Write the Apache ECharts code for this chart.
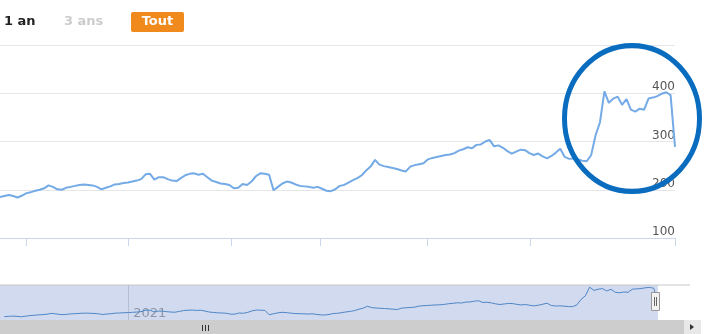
<!DOCTYPE html>
<html>
<head>
<meta charset="utf-8">
<script src="https://cdn.jsdelivr.net/npm/echarts@6/dist/echarts.min.js"></script>
<style>
html, body { margin: 0; padding: 0; background: #fff; }
#chart { width: 706px; height: 334px; }
</style>
</head>
<body>
<div id="chart"></div>
<script>
// one point every 4 days
var startDate = '2020-09-07';
var stepDays = 4;
var prices = [
    185, 187, 189, 187, 184, 188, 193, 195, 198, 200,
    203, 209, 206, 201, 200, 204, 206, 208, 210, 211,
    210, 209, 206, 201, 204, 207, 211, 212, 214, 215,
    217, 219, 222, 232, 233, 221, 226, 226, 222, 219,
    218, 224, 230, 233, 234, 231, 233, 226, 219, 216,
    213, 212, 210, 203, 204, 212, 210, 217, 228, 234,
    233, 231, 199, 206, 213, 217, 215, 211, 208, 207,
    206, 204, 206, 202, 198, 197, 201, 208, 210, 215,
    220, 224, 230, 240, 248, 262, 252, 249, 247, 245,
    243, 240, 238, 248, 251, 253, 255, 263, 266, 268,
    270, 272, 273, 276, 281, 284, 288, 286, 293, 294,
    300, 303, 290, 292, 287, 280, 275, 279, 283, 282,
    276, 272, 275, 269, 265, 270, 277, 285, 268, 264,
    265, 263, 260, 259, 272, 313, 340, 404, 380, 389,
    393, 376, 388, 366, 362, 368, 366, 389, 391, 394,
    399, 402, 396, 289
];
var tickDates = ['2020-10-01', '2021-01-01', '2021-04-05', '2021-06-24', '2021-09-29', '2022-01-01', '2022-05-12'];
var yearDates = ['2021-01-01'];
var yTicks = [100, 200, 300, 400, 500];
var buttons = ['1 an', '3 ans', 'Tout'];

var DAY = 86400000;
function toTime(s) { return +new Date(s + 'T00:00:00Z'); }

var t0 = toTime(startDate);
var points = prices.map(function (v, i) { return [t0 + i * stepDays * DAY, v]; });
var tEnd = points[points.length - 1][0];

var myChart = echarts.init(document.getElementById('chart'));

var option = {
    animation: false,
    grid: [
        { left: 0, top: 45, width: 675, height: 193 },
        // navigator
        { left: 0, top: 285, width: 658, height: 35, show: true, backgroundColor: '#d1daee', borderWidth: 0 }
    ],
    xAxis: [
        {
            type: 'value', gridIndex: 0, min: t0, max: tEnd,
            axisLine: { lineStyle: { color: '#ccd6eb' } },
            axisTick: { show: true, length: 8, lineStyle: { color: '#ccd6eb' }, customValues: tickDates.map(toTime) },
            axisLabel: { show: false },
            splitLine: { show: false }
        },
        {
            type: 'value', gridIndex: 1, min: t0 - 4 * DAY, max: tEnd,
            axisLine: { show: false },
            axisTick: { show: true, inside: true, length: 35, lineStyle: { color: '#b5bfd3' }, customValues: yearDates.map(toTime) },
            axisLabel: {
                show: true, inside: true, margin: 0, align: 'left', padding: [0, 0, 0, 5],
                color: '#8c97aa', fontSize: 13, fontFamily: 'DejaVu Sans',
                customValues: yearDates.map(toTime),
                formatter: function (v) { return String(new Date(v).getUTCFullYear()); }
            },
            splitLine: { show: false }
        }
    ],
    yAxis: [
        {
            type: 'value', gridIndex: 0, position: 'right',
            min: yTicks[0], max: yTicks[yTicks.length - 1], interval: 100,
            axisLine: { show: false },
            axisTick: { show: false },
            axisLabel: {
                inside: true, margin: 0, showMaxLabel: false,
                verticalAlign: 'bottom', padding: [0, 0, 0, 0],
                color: '#555', fontSize: 12, fontFamily: 'DejaVu Sans'
            },
            splitLine: { lineStyle: { color: '#e6e6e6' } }
        },
        { type: 'value', gridIndex: 1, min: 160, max: 420, show: false }
    ],
    series: [
        {
            type: 'line', xAxisIndex: 0, yAxisIndex: 0, data: points,
            showSymbol: false, lineStyle: { color: '#74aae6', width: 2 }
        },
        {
            type: 'line', xAxisIndex: 1, yAxisIndex: 1, data: points,
            showSymbol: false, lineStyle: { color: '#4f86c6', width: 1 }
        }
    ],
    graphic: [
        // range selector
        { type: 'text', left: 4, top: 15, style: { text: buttons[0], font: 'bold 13px DejaVu Sans', fill: '#222' } },
        { type: 'text', left: 64, top: 15, style: { text: buttons[1], font: 'bold 13px DejaVu Sans', fill: '#cccccc' } },
        { type: 'rect', shape: { x: 131, y: 12, width: 53, height: 20, r: 2 }, style: { fill: '#f08a1c' } },
        { type: 'text', x: 157.5, y: 22, style: { text: buttons[2], font: 'bold 13px DejaVu Sans', fill: '#fff', align: 'center', verticalAlign: 'middle' } },
        // navigator outline + handle
        { type: 'line', shape: { x1: 0, y1: 285, x2: 690, y2: 285 }, style: { stroke: '#c8c8c8', lineWidth: 1 } },
        { type: 'rect', shape: { x: 651.5, y: 292.5, width: 8, height: 18 }, style: { fill: '#f2f2f2', stroke: '#999', lineWidth: 1 }, z: 10 },
        { type: 'line', shape: { x1: 654.5, y1: 297, x2: 654.5, y2: 306 }, style: { stroke: '#666', lineWidth: 1 }, z: 11 },
        { type: 'line', shape: { x1: 656.5, y1: 297, x2: 656.5, y2: 306 }, style: { stroke: '#666', lineWidth: 1 }, z: 11 },
        // scrollbar
        { type: 'rect', shape: { x: 0, y: 320, width: 684, height: 14 }, style: { fill: '#cdcdcd' } },
        { type: 'line', shape: { x1: 202.5, y1: 325, x2: 202.5, y2: 331 }, style: { stroke: '#333', lineWidth: 1 } },
        { type: 'line', shape: { x1: 205.5, y1: 325, x2: 205.5, y2: 331 }, style: { stroke: '#333', lineWidth: 1 } },
        { type: 'line', shape: { x1: 208.5, y1: 325, x2: 208.5, y2: 331 }, style: { stroke: '#333', lineWidth: 1 } },
        { type: 'rect', shape: { x: 684, y: 320, width: 17, height: 14 }, style: { fill: '#e8e8e8' } },
        { type: 'polygon', shape: { points: [[690, 324], [690, 330], [694, 327]] }, style: { fill: '#333' } },
        // highlight circle
        {
            type: 'circle', x: 632, y: 118.5, scaleY: 1.08,
            shape: { cx: 0, cy: 0, r: 67.5 },
            style: { fill: 'transparent', stroke: '#0a6cbf', lineWidth: 5, strokeNoScale: true },
            z: 100
        }
    ]
};

myChart.setOption(option, true);
</script>
</body>
</html>
